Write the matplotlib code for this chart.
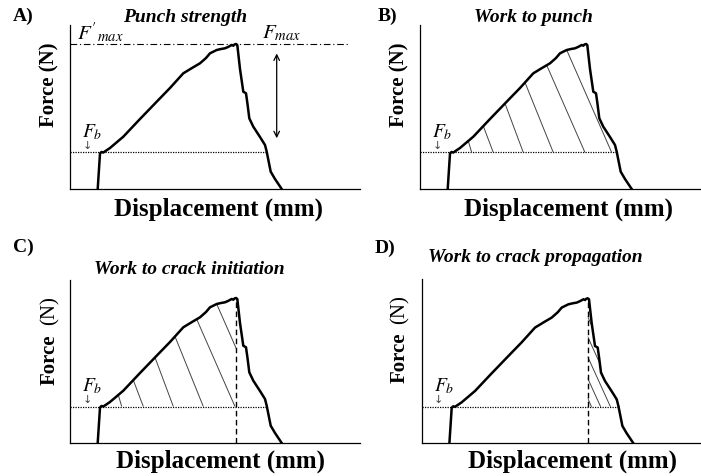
import numpy as np
import matplotlib
matplotlib.use("Agg")
import matplotlib.pyplot as plt
from matplotlib.patches import Polygon

plt.rcParams['font.family'] = ['Liberation Serif', 'DejaVu Serif']
plt.rcParams['mathtext.fontset'] = 'stix'

# force-displacement curve (arbitrary units)
disp = [27.7, 30.0, 31.5, 33.3, 40, 53.3, 70, 86.7, 100, 113.3, 122, 130, 136, 140,
        146.7, 151, 155, 158, 161.7, 163.3, 164.5, 166, 167.3, 170, 173.3, 176,
        177.5, 179.3, 183.3, 190, 195, 196.7, 200.7, 205, 211.7]
force = [0, 35.5, 37.0, 36.5, 41, 52.3, 70, 87.3, 101, 115.7, 121, 125.7, 131, 135.7,
         139, 140, 140.7, 142, 144, 143.3, 144.5, 145, 144, 120, 97.3, 95.7,
         85, 70.7, 62.3, 52, 44, 37.3, 17.3, 10, 0]
F_b = 36.5
F_max = 145

# hatch lines for work to punch / crack initiation (top on curve, bottom on F_b)
hatch_top = [48.3, 63.3, 85, 105, 126.7, 146.7]
hatch_bot = [51.7, 73.3, 103.3, 133.3, 165, 191.7]
# hatch lines for crack propagation (start heights on the dashed line)
prop_start = [126.6, 106.6, 86.6, 65, 45]

panels = ['A)', 'B)', 'C)', 'D)']
titles = ['Punch strength', 'Work to punch', 'Work to crack initiation', 'Work to crack propagation']

W, H = 701, 476
fig = plt.figure(figsize=(W / 100, H / 100), dpi=100)

def fx(px):
    return px / W

def fy(py):
    return 1 - py / H

# axes boxes in pixels: left, top, right, bottom
boxes = [(70, 25, 360, 189), (420, 25, 701, 189), (70, 280, 360, 443), (421.7, 279.3, 701, 443.3)]

disp = np.array(disp)
force = np.array(force)
ipk = np.argmax(force)
x_pk = disp[ipk]


def region(x0, x1):
    xs = np.concatenate([[x0], disp[(disp > x0) & (disp < x1)], [x1]])
    ys = np.maximum(np.interp(xs, disp, force), F_b)
    return list(zip(xs, ys)) + [(x1, F_b), (x0, F_b)]


for i, (l, t, r, b) in enumerate(boxes):
    ax = fig.add_axes([fx(l), fy(b), fx(r - l), (b - t) / H])
    ax.set_xlim(0, r - l)
    ax.set_ylim(0, b - t)
    for s in ['top', 'right']:
        ax.spines[s].set_visible(False)
    for s in ['left', 'bottom']:
        ax.spines[s].set_linewidth(0.9)
    ax.set_xticks([])
    ax.set_yticks([])
    ax.patch.set_alpha(0)

    ax.plot(disp, force, color='black', lw=1.8, zorder=3)
    x_cross = np.interp(F_b, force[ipk:][::-1], disp[ipk:][::-1])
    ax.plot([0, x_cross], [F_b, F_b], color='black', lw=0.9, ls=(0, (1, 1)))

    # F_b label and arrow
    ax.text(12, 57, '$F_b$', fontsize=14, ha='left', va='center')
    ax.text(17, 43, '\u2193', fontsize=8, color='#444', family='DejaVu Sans',
            ha='center', va='center')

    if i == 0:
        ax.plot([0, 280], [F_max, F_max], color='black', lw=0.8, ls=(0, (6, 2.5, 1, 2.5)))
        ax.text(7, 156, "$F'_{max}$", fontsize=15, ha='left', va='center')
        ax.text(192, 156, '$F_{max}$', fontsize=15, ha='left', va='center')
        ax.annotate('', xy=(206.7, 48), xytext=(206.7, 138.3),
                    arrowprops=dict(arrowstyle='<->', lw=0.9, color='black', mutation_scale=10))

    if i in (1, 2):
        x1 = disp[-1] if i == 1 else x_pk
        poly = Polygon(region(disp[0], x1), closed=True, fc='none', ec='none')
        ax.add_patch(poly)
        top_y = np.interp(hatch_top, disp, force)
        for xt, yt, xb in zip(hatch_top, top_y, hatch_bot):
            ln, = ax.plot([xt, xb], [yt, F_b], color='#444', lw=0.7)
            ln.set_clip_path(poly)

    if i == 3:
        poly = Polygon(region(x_pk, disp[-1]), closed=True, fc='none', ec='none')
        ax.add_patch(poly)
        for y0 in prop_start:
            ln, = ax.plot([x_pk, x_pk + 60], [y0, y0 - 132], color='#444', lw=0.7)
            ln.set_clip_path(poly)

    if i >= 2:
        ax.plot([x_pk, x_pk], [0, force.max()], color='black', lw=1.0, ls=(0, (4, 2.5)))

# panel letters
for lab, (px, py) in zip(panels, [(23, 16), (387, 16), (23, 247), (385, 248)]):
    fig.text(fx(px), fy(py), lab, fontsize=14, fontweight='bold', ha='center', va='center')

# titles
for tt, (px, py) in zip(titles, [(185, 17), (533, 18), (189, 269), (535, 258)]):
    fig.text(fx(px), fy(py), tt, fontsize=14, fontweight='bold', style='italic',
             ha='center', va='center')

# x labels
for px, py in [(219, 209), (569, 209), (221, 461), (572, 461)]:
    fig.text(fx(px), fy(py), 'Displacement (mm)', fontsize=18, fontweight='bold',
             ha='center', va='center')

# y labels
for px, py in [(49.5, 85), (399.5, 85)]:
    fig.text(fx(px), fy(py), 'Force (N)', fontsize=15, fontweight='bold',
             rotation=90, ha='center', va='center')
for px, py1, py2 in [(49.5, 360, 311), (400, 358, 310)]:
    fig.text(fx(px), fy(py1), 'Force', fontsize=15, fontweight='bold',
             rotation=90, ha='center', va='center')
    fig.text(fx(px), fy(py2), '(N)', fontsize=15, rotation=90, ha='center', va='center')

fig.savefig('out.png', dpi=100)
